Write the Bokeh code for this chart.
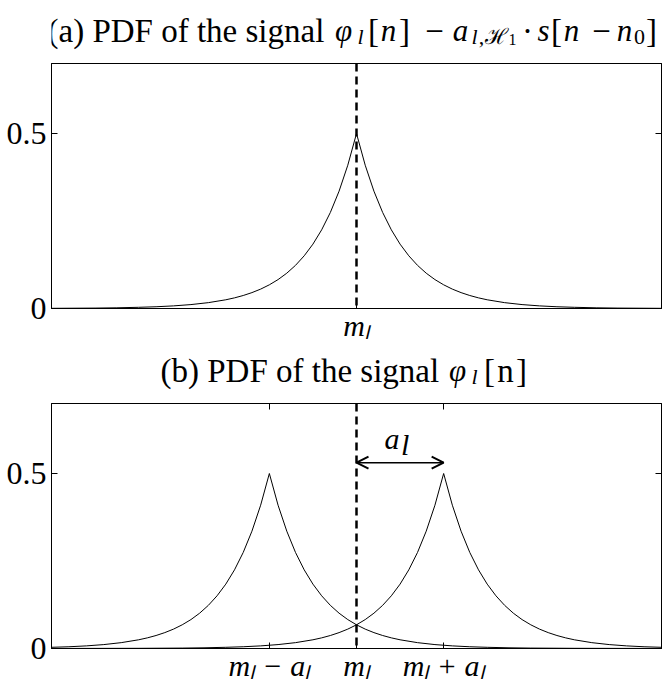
from bokeh.plotting import figure
from bokeh.models import Range1d, FixedTicker, LinearAxis, Span, Arrow, OpenHead
from bokeh.core.properties import value
from bokeh.layouts import column
from bokeh.embed import file_html
from bokeh.resources import INLINE

# ---- data ----
m_l = 0.0
a_l = 2.0
x_min, x_max = -7.0, 7.0
y_min, y_max = 0.0, 0.7
y_ticks = [0, 0.5]
y_tick_labels = ["0", "0.5"]
# half profile of each peaked PDF: distance from the peak -> density
dist = [0, 0.2, 0.4, 0.6, 0.8, 1.0, 1.2, 1.4, 1.6, 1.8, 2.0, 2.2, 2.4, 2.6, 2.8,
        3.0, 3.4, 3.8, 4.2, 4.6, 5.0, 5.5, 6.0, 7.0, 9.0]
dens = [0.5, 0.4094, 0.3352, 0.2744, 0.2247, 0.1839, 0.1506, 0.1233, 0.1009, 0.0826,
        0.0677, 0.0554, 0.0454, 0.0371, 0.0304, 0.0249, 0.0167, 0.0112, 0.0075,
        0.0050, 0.0034, 0.0020, 0.0012, 0.0005, 0.0001]
centers_a = [m_l]
centers_b = [m_l - a_l, m_l + a_l]
xticks_a = [m_l]
xticks_b = [m_l - a_l, m_l, m_l + a_l]
xlabels_a = ["mₗ"]
xlabels_b = ["mₗ − aₗ", "mₗ", "mₗ + aₗ"]
arrow_y = 0.531

SERIF = "Liberation Serif"
W = 663
FL, FR = 51, 661          # frame left / right (page px)
FH = 245                  # frame height (px)
TOP_A, TOP_B = 63, 403    # frame tops (page px)
H = 684
FIX = -10                 # text glyph baseline correction (px)


def curve(c):
    xs = [c - d for d in reversed(dist[1:])] + [c + d for d in dist]
    ys = list(reversed(dens[1:])) + dens
    return xs, ys


def style_axis(ax, labels=False, italic=False):
    ax.axis_line_color = "black"
    ax.axis_line_width = 1
    ax.major_tick_line_color = "black"
    ax.major_tick_in = 6
    ax.major_tick_out = 0
    ax.minor_tick_line_color = "black"
    ax.minor_tick_in = 6
    ax.minor_tick_out = 0
    if labels:
        ax.major_label_text_font = SERIF
        ax.major_label_text_font_size = "32px"
        ax.major_label_text_color = "black"
        ax.major_label_standoff = 5
        if italic:
            ax.major_label_text_font_style = "italic"
            ax.major_label_text_font_size = "30px"
            ax.major_label_standoff = 0


def make_panel(xticks, xlabels, bottom):
    p = figure(width=W, height=FH + bottom, x_range=Range1d(x_min, x_max),
               y_range=Range1d(y_min, y_max), output_backend="svg",
               toolbar_location=None, min_border_left=FL, min_border_right=W - FR,
               min_border_top=0, min_border_bottom=bottom)
    p.grid.visible = False
    p.outline_line_color = "black"
    p.outline_line_width = 1
    p.yaxis.ticker = FixedTicker(ticks=y_ticks)
    p.yaxis.major_label_overrides = {t: l for t, l in zip(y_ticks, y_tick_labels)}
    style_axis(p.yaxis[0], True)
    p.xaxis.ticker = FixedTicker(ticks=xticks)
    p.xaxis.major_label_overrides = {t: l for t, l in zip(xticks, xlabels)}
    style_axis(p.xaxis[0], True, italic=True)
    ra = LinearAxis(ticker=FixedTicker(ticks=[], minor_ticks=y_ticks))
    style_axis(ra)
    p.add_layout(ra, "right")
    ta = LinearAxis(ticker=FixedTicker(ticks=[], minor_ticks=xticks))
    style_axis(ta)
    p.add_layout(ta, "above")
    return p


def make_strip(top, h):
    s = figure(width=W, height=h, x_range=Range1d(FL, FR), y_range=Range1d(top + h, top),
               output_backend="svg", toolbar_location=None, min_border_left=FL,
               min_border_right=W - FR, min_border_top=0, min_border_bottom=0,
               x_axis_location=None, y_axis_location=None)
    s.grid.visible = False
    s.outline_line_color = None
    return s


def draw_pieces(p, items):
    # items: (text, x_px, baseline_px, size_px, italic, align)
    groups = {}
    for t, x, y, size, it, al in items:
        groups.setdefault((size, it, al), []).append((t, x, y + FIX))
    for (size, it, al), rows in groups.items():
        p.text(x=[r[1] for r in rows], y=[r[2] for r in rows], text=[r[0] for r in rows],
               text_font=value(SERIF), text_font_size=value(f"{size}px"),
               text_font_style="italic" if it else "normal", text_color="black",
               text_align=al, text_baseline="alphabetic")


T, TM, TS, TSS = 33, 31, 22, 16

# ---------------- strip 1 : title (a) ----------------
s1 = make_strip(0, TOP_A)
TB = 40
draw_pieces(s1, [
    ("(a) PDF of the signal", 47, TB, T, False, "left"),
    ("φ", 343, TB, TM, True, "center"), ("l", 360, TB + 6, TS, True, "center"),
    ("[", 373, TB, T, False, "center"), ("n", 388, TB, TM, True, "center"),
    ("]", 404, TB, T, False, "center"),
    ("−", 434, TB, T, False, "center"),
    ("a", 460, TB, TM, True, "center"), ("l", 474, TB + 6, TS, True, "center"),
    (",", 481, TB + 6, TS, False, "center"),
    ("ℋ", 496, TB + 6, TS, False, "center"), ("1", 512, TB + 9, TSS, False, "center"),
    ("·", 527, TB, T, False, "center"),
    ("s", 543, TB, TM, True, "center"), ("[", 556, TB, T, False, "center"),
    ("n", 571, TB, TM, True, "center"), ("−", 601, TB, T, False, "center"),
    ("n", 624, TB, TM, True, "center"), ("0", 639, TB + 6, TS, False, "center"),
    ("]", 651, TB, T, False, "center"),
])

# ---------------- panel (a) ----------------
BOT_A = 37
pa = make_panel(xticks_a, xlabels_a, BOT_A)
for c in centers_a:
    xs, ys = curve(c)
    pa.line(xs, ys, line_color="black", line_width=1)
pa.add_layout(Span(location=m_l, dimension="height", line_color="black",
                   line_width=2.5, line_dash="8 5"))

# ---------------- strip 2 : title (b) ----------------
s2_top = TOP_A + FH + BOT_A
s2 = make_strip(s2_top, TOP_B - s2_top)
TBB = 380
draw_pieces(s2, [
    ("(b) PDF of the signal", 160, TBB, T, False, "left"),
    ("φ", 457, TBB, TM, True, "center"), ("l", 474, TBB + 6, TS, True, "center"),
    ("[", 489, TBB, T, False, "center"), ("n", 505, TBB, T, False, "center"),
    ("]", 521, TBB, T, False, "center"),
])

# ---------------- panel (b) ----------------
pb = make_panel(xticks_b, xlabels_b, H - TOP_B - FH)
for c in centers_b:
    xs, ys = curve(c)
    pb.line(xs, ys, line_color="black", line_width=1)
pb.add_layout(Span(location=m_l, dimension="height", line_color="black",
                   line_width=2.5, line_dash="8 5"))
pb.add_layout(Arrow(start=OpenHead(size=12, line_width=2, line_color="black"),
                    end=OpenHead(size=12, line_width=2, line_color="black"),
                    x_start=m_l, y_start=arrow_y, x_end=m_l + a_l, y_end=arrow_y,
                    line_width=1.5, line_color="black"))
pb.text(x=[m_l + a_l / 2, m_l + a_l / 2], y=[arrow_y, arrow_y], text=["a", "l"],
        x_offset=[-8, 5], y_offset=[-14 + FIX, -8 + FIX],
        text_font=value(SERIF), text_font_size=value("30px"), text_font_style="italic",
        text_color="black", text_align="center", text_baseline="alphabetic")

layout = column(s1, pa, s2, pb, spacing=0)
open("out.html", "w").write(file_html(layout, INLINE))
